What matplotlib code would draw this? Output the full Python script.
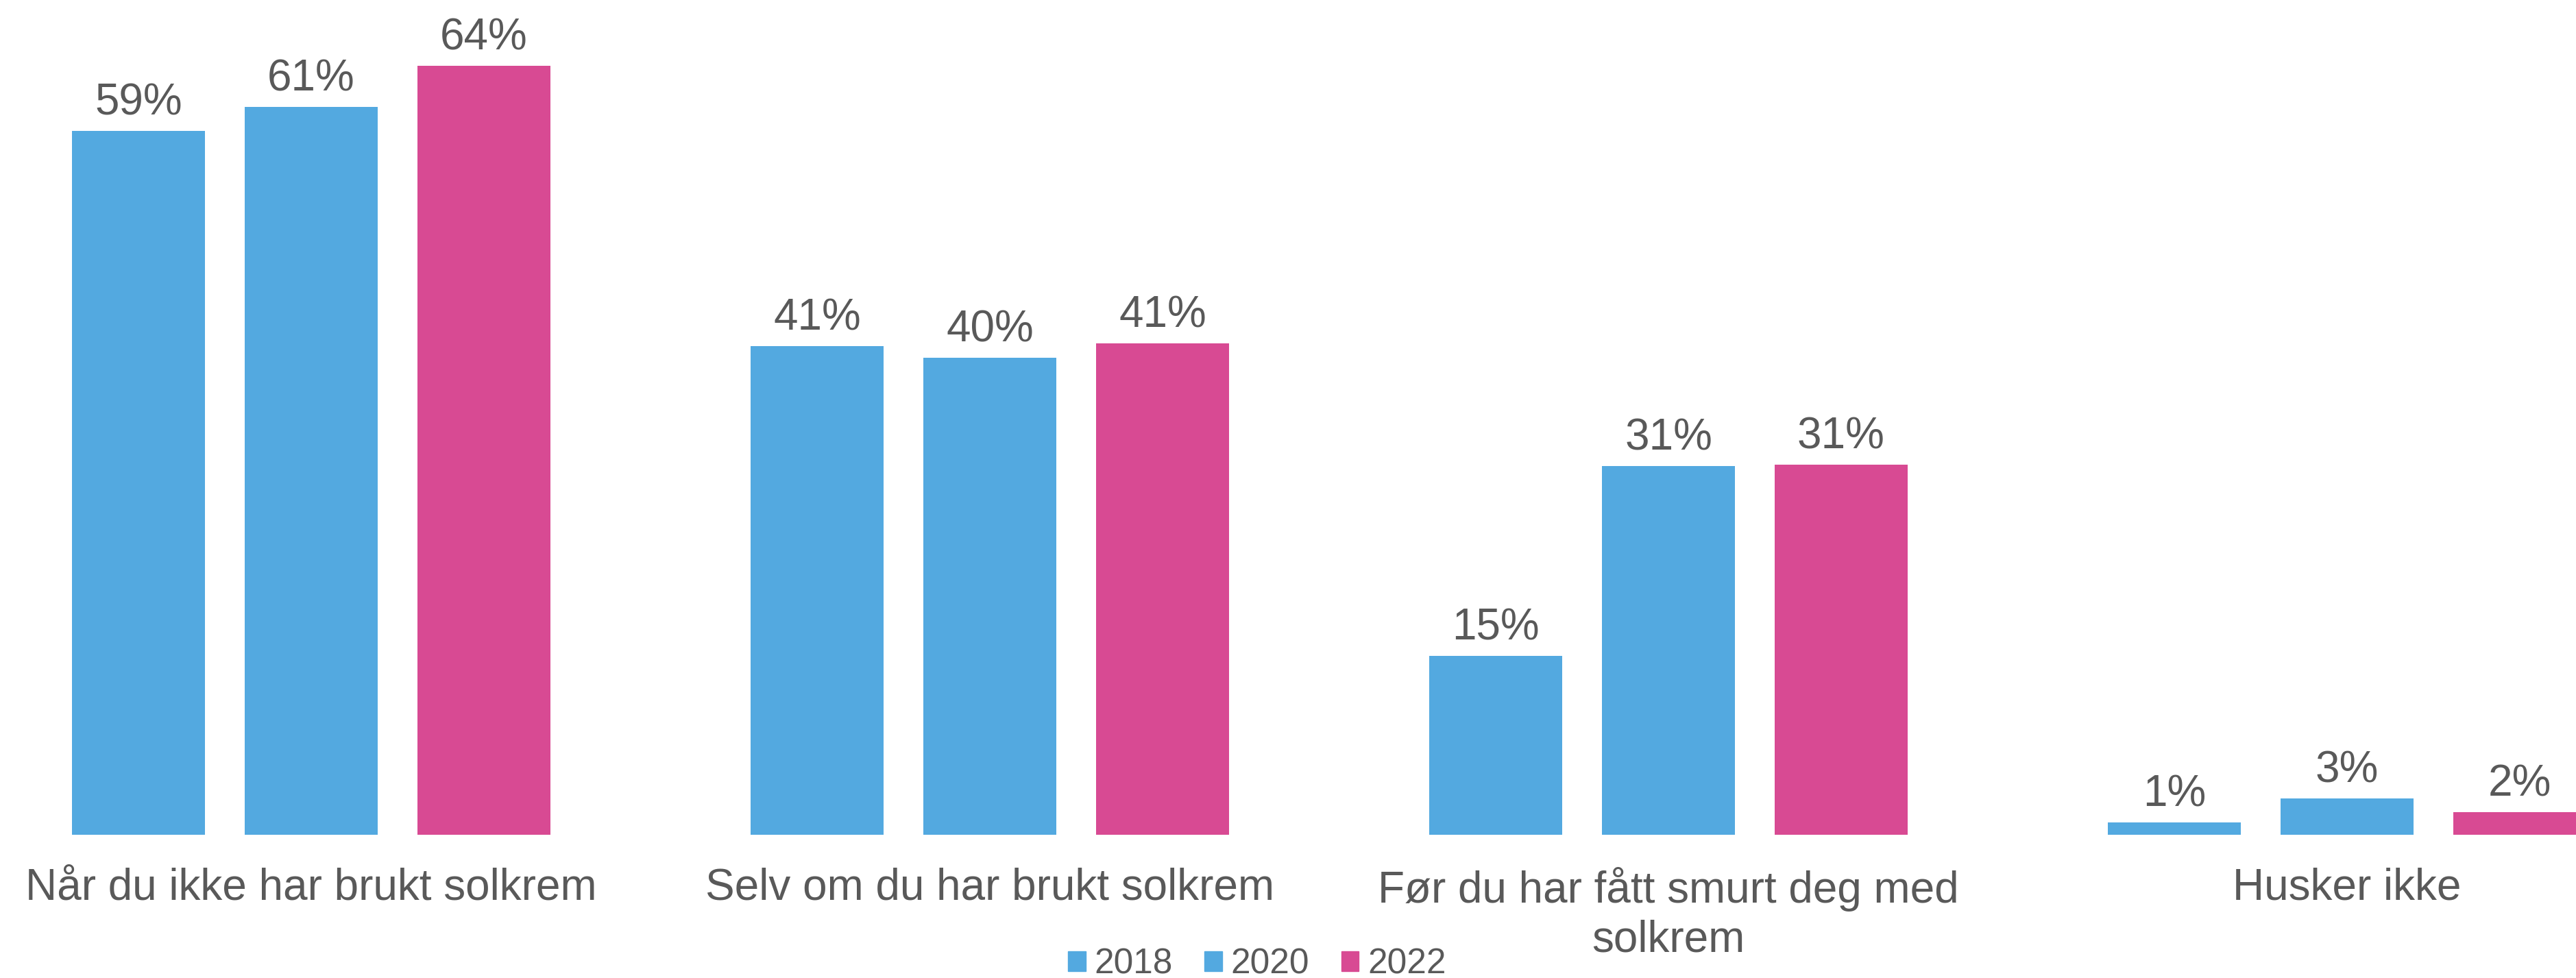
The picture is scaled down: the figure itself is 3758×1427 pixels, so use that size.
import numpy as np
import matplotlib.pyplot as plt
from matplotlib.patches import Patch

plt.rcParams['font.family'] = ['Liberation Sans', 'DejaVu Sans']

kategorier = ["Når du ikke har brukt solkrem", "Selv om du har brukt solkrem",
              "Før du har fått smurt deg med\nsolkrem", "Husker ikke"]
aar = ["2018", "2020", "2022"]
# verdier lest av bildet (etikettene er avrundet)
v2018 = [58.6, 40.7, 14.9, 1.0]
v2020 = [60.6, 39.7, 30.7, 3.0]
v2022 = [64.0, 40.9, 30.8, 1.9]

blaa = '#53A9E0'
rosa = '#D84A93'
farger = [blaa, blaa, rosa]
tekst = '#595959'

fig = plt.figure(figsize=(37.58, 14.27), dpi=100)
ax = fig.add_axes([0, 0.1465, 1, 0.8535])

x = np.arange(len(kategorier))
step = 0.2545
w = 0.196
for i, (serie, farge) in enumerate(zip([v2018, v2020, v2022], farger)):
    pos = x + (i - 1) * step
    ax.bar(pos, serie, width=w, color=farge)
    for xp, v in zip(pos, serie):
        ax.annotate(f"{v:.0f}%", (xp, v), xytext=(0, 17), textcoords='offset points',
                    ha='center', va='baseline', fontsize=46, color=tekst,
                    annotation_clip=False)

ax.set_xlim(-0.4586, 3.3374)
ax.set_ylim(0, 69.5)
ax.set_xticks(x)
ax.set_xticklabels(kategorier, fontsize=46, color=tekst, linespacing=1.25)
ax.tick_params(axis='x', length=0, pad=34)
ax.set_yticks([])
for s in ax.spines.values():
    s.set_visible(False)

handles = [Patch(color=f) for f in farger]
fig.legend(handles, aar, loc='center', bbox_to_anchor=(0.488, 0.014), ncol=3,
           frameon=False, fontsize=37, labelcolor=tekst, handlelength=0.5,
           handleheight=0.5, handletextpad=0.25, columnspacing=0.9)

fig.savefig('out.png', dpi=100)
